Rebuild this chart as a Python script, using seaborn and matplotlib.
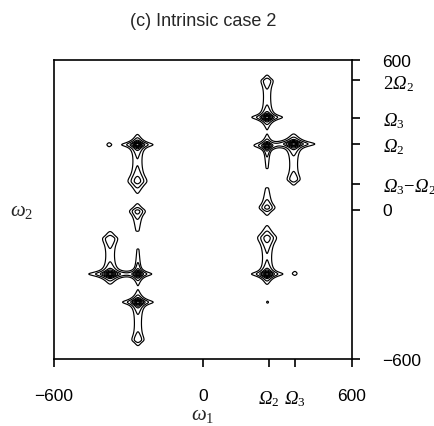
import numpy as np
import matplotlib
matplotlib.use("Agg")
import matplotlib.pyplot as plt
import seaborn as sns

sns.set_theme(style="white")
plt.rcParams["font.family"] = ["Liberation Sans", "DejaVu Sans"]
plt.rcParams["mathtext.fontset"] = "custom"
plt.rcParams["mathtext.rm"] = "Liberation Serif:italic"
plt.rcParams["mathtext.it"] = "Liberation Serif:italic"
plt.rcParams["mathtext.sf"] = "Liberation Serif"

# ---- axis ticks ----
x_tick_vals = [-600, 0, 266, 370, 600]
x_tick_labels = ["\u2212600", "0", r"$\Omega_{\mathsf{2}}$", r"$\Omega_{\mathsf{3}}$", "600"]
y_tick_vals = [600, 518, 368, 263, 104, 0, -600]
y_tick_labels = ["600", r"$\mathsf{2}\Omega_{\mathsf{2}}$", r"$\Omega_{\mathsf{3}}$", r"$\Omega_{\mathsf{2}}$",
                 r"$\Omega_{\mathsf{3}}\mathsf{-}\Omega_{\mathsf{2}}$", "0", "\u2212600"]

# ---- spectral peaks: centre (w1, w2), amplitude, widths ----
peak_w1 = [-264, -264, -264, -378, -374, -374, -262, -262, -262,
           258, 258, 258, 365, 365, 258, 258, 258, 370, 260]
peak_w2 = [260, 114, -8, 260, -118, -259, -259, -372, -522,
           515, 370, 256, 263, 122, 8, -114, -259, -256, -372]
peak_amp = [1.0, 0.22, 0.18, 0.07, 0.13, 1.0, 0.8, 1.0, 0.12,
            0.12, 1.0, 0.8, 1.0, 0.12, 0.18, 0.22, 1.0, 0.07, 0.053]
peak_gx = [14, 19, 18, 9, 19, 19, 12, 14, 15,
           15, 14, 12, 19, 16, 18, 19, 14, 9, 7]
peak_gy = [9, 23, 15, 9, 22, 9, 9, 9, 19,
           19, 9, 9, 9, 19, 15, 23, 9, 9, 7]

# ---- ridges joining peaks along w2: w1, w2 start, w2 end, amplitude at start/end, width ----
ridge_w1 = [-264, -374, -262, 258, 365, 258, -264, 258, -262, 258]
ridge_w2a = [260, -259, -372, 370, 263, -259, -8, 8, -259, 256]
ridge_w2b = [114, -118, -522, 515, 122, -114, -84, 84, -162, 168]
ridge_amp_a = [0.06, 0.06, 0.06, 0.06, 0.06, 0.06, 0.07, 0.07, 0.08, 0.08]
ridge_amp_b = [0.06, 0.06, 0.06, 0.06, 0.06, 0.06, 0.042, 0.042, 0.045, 0.045]
ridge_sig = [17, 17, 15, 15, 16, 17, 13, 13, 7, 7]

contour_levels = [0.05, 0.1, 0.2, 0.3, 0.45, 0.6, 0.75, 0.9]

w = np.linspace(-600, 600, 1201)
W1, W2 = np.meshgrid(w, w)
S = np.zeros_like(W1)
for cx, cy, a, gx, gy in zip(peak_w1, peak_w2, peak_amp, peak_gx, peak_gy):
    S += a / ((1 + ((W1 - cx) / gx) ** 2) * (1 + ((W2 - cy) / gy) ** 2))
for cx, ya, yb, aa, ab, sg in zip(ridge_w1, ridge_w2a, ridge_w2b, ridge_amp_a, ridge_amp_b, ridge_sig):
    lo, hi = min(ya, yb), max(ya, yb)
    t = np.clip((W2 - ya) / (yb - ya), 0, 1)
    amp = aa + (ab - aa) * t
    outside = np.where(W2 < lo, lo - W2, np.where(W2 > hi, W2 - hi, 0))
    S += amp * np.exp(-0.5 * ((W1 - cx) / sg) ** 2) * np.exp(-0.5 * (outside / 6) ** 2)

fig = plt.figure(figsize=(4.34, 4.27), dpi=100)
ax = fig.add_axes([54 / 434, 67 / 427, 298 / 434, 299 / 427])
ax.contour(W1, W2, S, levels=contour_levels, colors="black", linewidths=0.85)
ax.set_xlim(-600, 600)
ax.set_ylim(-600, 600)

for s in ax.spines.values():
    s.set_visible(True)
    s.set_color("black")
    s.set_linewidth(1.2)

ax.set_xticks(x_tick_vals)
ax.set_xticklabels(x_tick_labels)
ax.yaxis.tick_right()
ax.set_yticks(y_tick_vals)
ax.set_yticklabels(y_tick_labels)
ax.tick_params(axis="x", direction="out", length=6, width=1.2, pad=15,
               labelsize=12.5, colors="black", bottom=True)
ax.tick_params(axis="y", direction="out", length=6, width=1.2, pad=16,
               labelsize=12.5, colors="black", right=True, left=False)
for lab in ax.get_xticklabels() + ax.get_yticklabels():
    if lab.get_text().startswith("$"):
        lab.set_fontsize(13.5)

fig.text(203 / 434, 1 - 22 / 427, "(c) Intrinsic case 2", ha="center", va="center", fontsize=13)
fig.text(203 / 434, 1 - 416 / 427, r"$\omega_{\mathsf{1}}$", ha="center", va="center", fontsize=15)
fig.text(22 / 434, 1 - 212 / 427, r"$\omega_{\mathsf{2}}$", ha="center", va="center", fontsize=15)

fig.savefig("out.png", dpi=100, facecolor="white")
